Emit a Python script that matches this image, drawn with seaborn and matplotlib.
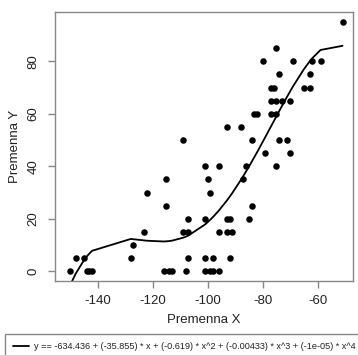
import numpy as np
import pandas as pd
import matplotlib
matplotlib.use("Agg")
import matplotlib.pyplot as plt
import seaborn as sns

# data
x_vals = [-150, -148, -145, -144, -143, -142, -128, -127, -123, -122,
          -115, -115, -116, -114, -113, -109, -109, -107, -107, -107,
          -108, -101, -96, -100, -99, -101, -101, -98, -101, -99,
          -98, -96, -96, -93, -92, -93, -91, -92, -93, -88,
          -86, -87, -84, -85, -84, -83, -82, -79, -80, -77,
          -76, -77, -75, -73, -70, -77, -75, -75, -74, -75,
          -74, -71, -70, -69, -65, -63, -63, -62, -59, -51]
y_vals = [0, 5, 5, 0, 0, 0, 5, 10, 15, 30,
          35, 25, 0, 0, 0, 50, 15, 15, 20, 5,
          0, 40, 40, 35, 30, 20, 5, 5, 0, 0,
          0, 0, 15, 20, 20, 15, 15, 5, 55, 55,
          40, 35, 25, 20, 50, 60, 60, 45, 80, 70,
          70, 65, 65, 65, 65, 60, 60, 85, 75, 40,
          50, 50, 45, 80, 70, 70, 75, 80, 80, 95]

x_ticks = [-140, -120, -100, -80, -60]
y_ticks = [0, 20, 40, 60, 80]
legend_label = ("y == -634.436 + (-35.855) * x + (-0.619) * x^2 + "
                "(-0.00433) * x^3 + (-1e-05) * x^4")

df = pd.DataFrame({"x": x_vals, "y": y_vals})
coef = np.polyfit(df["x"], df["y"], 4)
df["fit"] = np.polyval(coef, df["x"])
df = df.sort_values("x")

sns.set_style("white")
plt.rcParams["font.family"] = ["Liberation Sans", "DejaVu Sans"]

fig = plt.figure(figsize=(3.58, 3.55), dpi=100)
ax = fig.add_axes([55/358, 1-280.7/355, (352.7-55)/358, (280.7-12)/355])

sns.scatterplot(data=df, x="x", y="y", ax=ax, color="black", s=22,
                linewidth=0, legend=False)
sns.lineplot(data=df, x="x", y="fit", ax=ax, color="black", lw=1.3,
             estimator=None, sort=True, label=legend_label, legend=False)

ax.set_xlim(-155.5, -47.3)
ax.set_ylim(-3.6, 98.8)
ax.set_xticks(x_ticks)
ax.set_yticks(y_ticks)
ax.set_xticklabels([str(t) for t in x_ticks])
ax.set_yticklabels([str(t) for t in y_ticks], rotation=90, va="center")

gray = "#888888"
for sp in ax.spines.values():
    sp.set_color(gray)
    sp.set_linewidth(1.0)
ax.tick_params(axis="both", which="major", length=5, width=1.0,
               color=gray, labelcolor="#222222", labelsize=9.5, direction="out",
               bottom=True, left=True)
ax.tick_params(axis="x", pad=5)
ax.tick_params(axis="y", pad=6)

ax.set_xlabel("Premenna X", fontsize=9.5, color="#222222")
ax.set_ylabel("Premenna Y", fontsize=9.5, color="#222222")
ax.xaxis.set_label_coords(0.5, (280.7-320)/268.7)
ax.xaxis.label.set_va("center")
ax.yaxis.set_label_coords((15-55)/297.7, 0.5)
ax.yaxis.label.set_va("center")

handles, labels = ax.get_legend_handles_labels()
leg = fig.legend(handles, labels, loc="upper left",
                 bbox_to_anchor=(5/358, 1-334/355), fontsize=6.6,
                 frameon=True, fancybox=False, framealpha=1,
                 edgecolor=gray, handlelength=1.75, handletextpad=0.55,
                 borderpad=0.9, borderaxespad=0)
leg.get_frame().set_linewidth(1.0)
for t in leg.get_texts():
    t.set_color("#222222")

fig.savefig("out.png", dpi=100)
